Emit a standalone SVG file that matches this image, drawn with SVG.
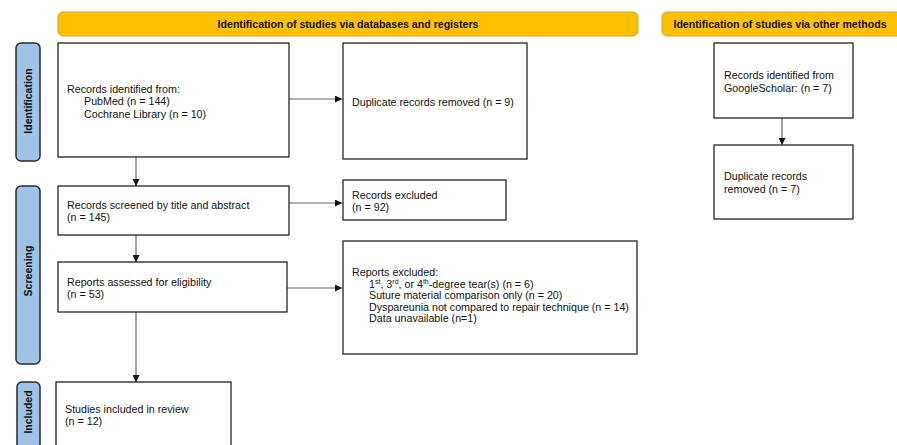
<svg xmlns="http://www.w3.org/2000/svg" width="897" height="445" viewBox="0 0 897 445">
<style>
text{font-family:"Liberation Sans",Arial,sans-serif;font-size:10.7px;fill:#111}
.hdr{fill:#FFC000;stroke:#C9A227;stroke-width:1}
.hdrt{font-weight:bold;font-size:10.6px;text-anchor:middle}
.side{fill:#9DC3E6;stroke:#2b2b2b;stroke-width:1.5}
.sidet{font-weight:bold;font-size:10.5px;text-anchor:middle}
.box{fill:#fff;stroke:#111;stroke-width:1.2}
.con{stroke:#666;stroke-width:1.2;fill:none;marker-end:url(#ah)}
</style>
<defs>
<marker id="ah" viewBox="0 0 10 10" refX="10" refY="5" markerWidth="7" markerHeight="7" markerUnits="userSpaceOnUse" orient="auto">
<path d="M0,0 L10,5 L0,10 z" fill="#111"/>
</marker>
</defs>
<rect width="897" height="445" fill="#fff"/>
<g id="hdr1"><rect class="hdr" x="58" y="12" width="580" height="24" rx="5"/><text class="hdrt" x="348" y="28">Identification of studies via databases and registers</text></g>
<g id="hdr2"><rect class="hdr" x="662" y="12" width="245" height="24" rx="5"/><text class="hdrt" x="780" y="28">Identification of studies via other methods</text></g>
<g id="side-identification"><rect class="side" x="16" y="43" width="24" height="118" rx="5"/><text class="sidet" transform="translate(31.8,101) rotate(-90)">Identification</text></g>
<g id="side-screening"><rect class="side" x="16" y="186" width="24" height="178" rx="5"/><text class="sidet" transform="translate(31.8,271) rotate(-90)">Screening</text></g>
<g id="side-included"><rect class="side" x="17" y="382" width="23" height="80" rx="5"/><text class="sidet" transform="translate(31.8,412) rotate(-90)">Included</text></g>

<g id="connectors">
<line class="con" x1="289" y1="99" x2="342" y2="99"/>
<line class="con" x1="136" y1="157" x2="136" y2="186"/>
<line class="con" x1="289" y1="203" x2="342" y2="203"/>
<line class="con" x1="136" y1="235" x2="136" y2="262"/>
<line class="con" x1="287" y1="288" x2="342" y2="288"/>
<line class="con" x1="136" y1="312" x2="136" y2="382"/>
<line class="con" x1="782" y1="118" x2="782" y2="145"/>
</g>

<g id="n-identified"><rect class="box" x="58" y="43" width="231" height="114"/><text x="67" y="93">Records identified from:</text><text x="84" y="105">PubMed (n = 144)</text><text x="84" y="117.5">Cochrane Library (n = 10)</text></g>
<g id="n-duplicates"><rect class="box" x="343" y="43" width="184" height="116"/><text x="352" y="106">Duplicate records removed (n = 9)</text></g>
<g id="n-screened"><rect class="box" x="58" y="186" width="231" height="49"/><text x="67" y="209">Records screened by title and abstract</text><text x="67" y="221">(n = 145)</text></g>
<g id="n-excluded"><rect class="box" x="343" y="180" width="163" height="40"/><text x="352" y="199">Records excluded</text><text x="352" y="211">(n = 92)</text></g>
<g id="n-assessed"><rect class="box" x="58" y="262" width="229" height="50"/><text x="67" y="286">Reports assessed for eligibility</text><text x="67" y="298">(n = 53)</text></g>
<g id="n-reports-excluded"><rect class="box" x="343" y="241" width="294" height="113"/>
<text x="352" y="276">Reports excluded:</text>
<text x="369" y="287.5">1<tspan font-size="7" dy="-4">st</tspan><tspan dy="4">, 3</tspan><tspan font-size="7" dy="-4">rd</tspan><tspan dy="4">, or 4</tspan><tspan font-size="7" dy="-4">th</tspan><tspan dy="4">-degree tear(s) (n = 6)</tspan></text>
<text x="369" y="299">Suture material comparison only (n = 20)</text>
<text x="369" y="310.5">Dyspareunia not compared to repair technique (n = 14)</text>
<text x="369" y="322">Data unavailable (n=1)</text></g>
<g id="n-included"><rect class="box" x="56" y="382" width="175" height="80"/><text x="65" y="413">Studies included in review</text><text x="65" y="424.5">(n = 12)</text></g>
<g id="n-google"><rect class="box" x="714" y="43" width="139" height="75"/><text x="724" y="79">Records identified from</text><text x="724" y="91.5">GoogleScholar: (n = 7)</text></g>
<g id="n-google-dup"><rect class="box" x="714" y="145" width="139" height="74"/><text x="724" y="180">Duplicate records</text><text x="724" y="192.5">removed (n = 7)</text></g>
</svg>
